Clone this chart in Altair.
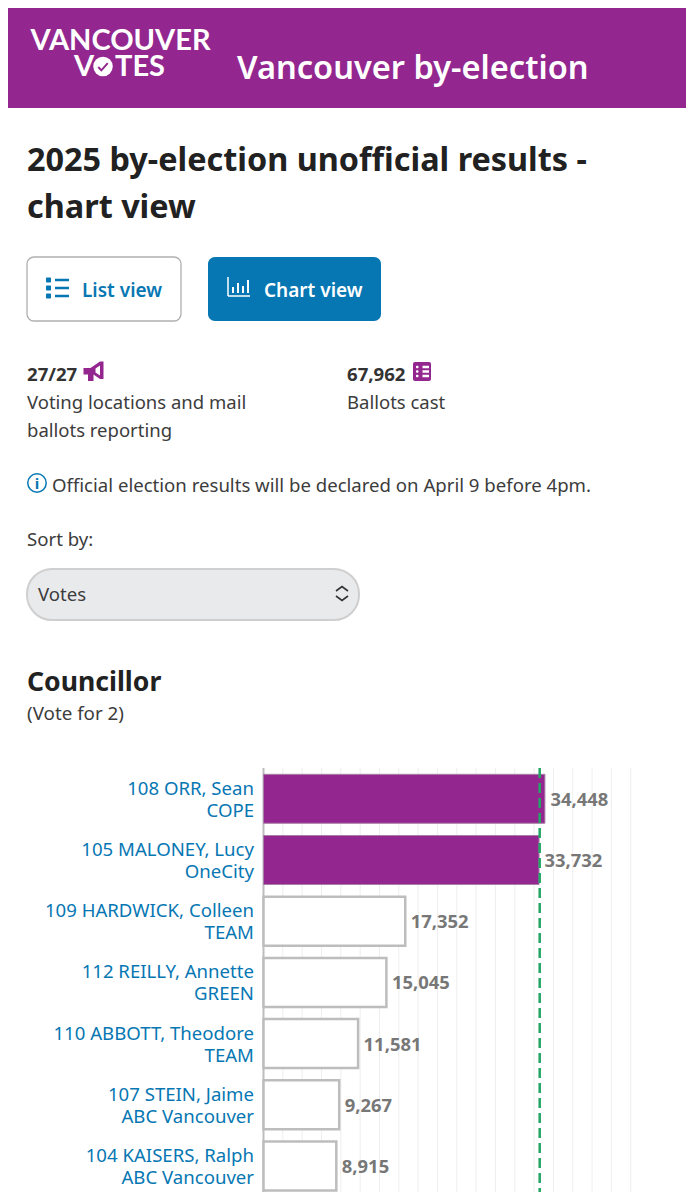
import altair as alt
import pandas as pd

candidates = ["108 ORR, Sean", "105 MALONEY, Lucy", "109 HARDWICK, Colleen", "112 REILLY, Annette",
              "110 ABBOTT, Theodore", "107 STEIN, Jaime", "104 KAISERS, Ralph"]
parties = ["COPE", "OneCity", "TEAM", "GREEN", "TEAM", "ABC Vancouver", "ABC Vancouver"]
votes = [34448, 33732, 17352, 15045, 11581, 9267, 8915]
elected = [True, True, False, False, False, False, False]
grid_ticks = [2366, 4732, 7098, 9464, 11830, 14196, 16562, 18928, 21294, 23660,
              26026, 28392, 30758, 33124, 35490, 37856, 40222, 42588, 44954]
threshold = [33810]

PURPLE = "#93278f"
BLUE = "#0777b3"
DARK = "#212121"
BODY = "#3c3c3c"
FONT = "Noto Sans"
M = 8  # page margin: reference pixel minus M gives the chart pixel

df = pd.DataFrame({"candidate": candidates, "party": parties, "votes": votes, "elected": elected})
one = pd.DataFrame({"k": [0]})

x_scale = alt.Scale(domain=[0, 45000], range=[263.5 - M, 631.1 - M])
y_scale = alt.Scale(domain=candidates, range=[768.2 - M, 1196.6 - M], paddingInner=0.2, paddingOuter=0.1)
X = alt.X("votes:Q", scale=x_scale, axis=None)
Y = alt.Y("candidate:N", scale=y_scale, axis=None, sort=None)


def txt(s, x, y, size, color=BODY, weight=400, font=FONT, align="left"):
    return alt.Chart(one).mark_text(text=s, fontSize=size, color=color, fontWeight=weight, font=font,
                                    align=align, baseline="alphabetic").encode(x=alt.value(x - M), y=alt.value(y - M))


def box(x, x2, y, y2, fill, stroke=None, sw=0, r=0):
    kw = dict(fill=fill, cornerRadius=r, strokeWidth=sw)
    if stroke:
        kw["stroke"] = stroke
    return alt.Chart(one).mark_rect(**kw).encode(x=alt.value(x - M), x2=alt.value(x2 - M),
                                                 y=alt.value(y - M), y2=alt.value(y2 - M))


def sym(path, x, y, size, color, filled=True, sw=1.5):
    kw = dict(shape=path, size=size, filled=filled, opacity=1)
    kw.update(dict(fill=color, strokeWidth=0) if filled else dict(stroke=color, strokeWidth=sw, fill=None))
    return alt.Chart(one).mark_point(**kw).encode(x=alt.value(x - M), y=alt.value(y - M))


def vrule(x, y, y2, sw, color="white"):
    return alt.Chart(one).mark_rule(color=color, strokeWidth=sw).encode(
        x=alt.value(x - M), y=alt.value(y - M), y2=alt.value(y2 - M))


def list_icon(x, y, w, h, color, dot):
    parts = []
    for i in range(3):
        cy = y + i * h
        parts.append(box(x, x + dot, cy - dot / 2, cy + dot / 2, color, r=1))
        parts.append(box(x + dot + 4, x + w, cy - 1.25, cy + 1.25, color))
    return parts


page = [
    box(0, 694, 0, 108, PURPLE),
    txt("VANCOUVER", 120.5, 49.5, 29, "white", 700, "Lato", "center"),
    txt("V", 84, 76, 29, "white", 700, "Lato", "center"),
    txt("TES", 140, 76, 29, "white", 700, "Lato", "center"),
    alt.Chart(one).mark_point(shape="circle", size=380, filled=True, fill="white", strokeWidth=0, opacity=1)
    .encode(x=alt.value(103 - M), y=alt.value(66.5 - M)),
    sym("M-1,0 L-0.35,0.7 L1,-0.8", 103, 67, 90, PURPLE, False, 2),
    txt("Vancouver by-election", 237, 79, 32.6, "white", 600),
    txt("2025 by-election unofficial results -", 27, 171, 32.4, DARK, 700),
    txt("chart view", 27, 218, 32.4, DARK, 700),
    box(27, 181, 257, 321, "white", "#b0b0b0", 1.3, 7),
    box(208, 381, 257, 321, BLUE, r=7),
]
page += list_icon(46, 280, 23, 8, BLUE, 5)
page += [
    txt("List view", 82, 297, 19, BLUE, 600),
    vrule(228, 277, 296, 1.5),
    alt.Chart(one).mark_rule(color="white", strokeWidth=1.5).encode(
        x=alt.value(228 - M), x2=alt.value(250 - M), y=alt.value(296 - M)),
    vrule(233, 287, 293, 2),
    vrule(238, 283, 293, 2),
    vrule(243, 286, 293, 2),
    vrule(248, 280, 293, 2),
    txt("Chart view", 264, 297, 19, "white", 600),
    txt("27/27", 27, 381, 18.6, "#333333", 700),
    sym("M-1,-0.35 L-0.3,-0.35 L0.65,-1 L1,-1 L1,0.75 L0.65,0.75 L0,0.3 L0,0.95 L-0.55,0.95 L-0.55,0.3 L-1,0.3 Z",
        93.5, 371.5, 400, PURPLE),
    sym("M0.2,-0.3 L0.65,-0.6 L0.65,0.4 L0.2,0.1 Z", 93.5, 371.5, 400, "white"),
    txt("67,962", 347, 381, 18.6, "#333333", 700),
    box(413, 431, 362, 381, PURPLE, r=2),
]
page += list_icon(416, 367, 13, 4.5, "white", 2.5)
page += [
    txt("Voting locations and mail", 27, 409, 18.5),
    txt("ballots reporting", 27, 437, 18.5),
    txt("Ballots cast", 347, 409, 18.5),
    alt.Chart(one).mark_point(shape="circle", size=340, filled=False, stroke=BLUE, strokeWidth=1.5, opacity=1)
    .encode(x=alt.value(37 - M), y=alt.value(483 - M)),
    txt("i", 37, 489, 15, BLUE, 700, FONT, "center"),
    txt("Official election results will be declared on April 9 before 4pm.", 52, 492, 18.6),
    txt("Sort by:", 27, 546, 18.6),
    box(27, 359, 569, 620, "#e9eaec", "#cfcfcf", 2, 25),
    txt("Votes", 38, 601, 18.6),
    sym("M-1,-0.25 L0,-1 L1,-0.25", 342, 592.5, 144, "#333333", False, 1.6),
    sym("M-1,0.25 L0,1 L1,0.25", 342, 594.5, 144, "#333333", False, 1.6),
    txt("Councillor", 27, 691, 26.6, DARK, 700),
    txt("(Vote for 2)", 27, 720, 18.8, BODY),
]

grid = alt.Chart(pd.DataFrame({"votes": grid_ticks})).mark_rule(color="#eeeeee", strokeWidth=1).encode(
    x=X, y=alt.value(768 - M), y2=alt.value(1192))
axis_line = vrule(263.5, 768, 1200, 2, "#bdbdbd")
won = alt.Chart(df[df.elected]).mark_bar(fill=PURPLE, stroke="#a77fa6", strokeWidth=1).encode(x=X, y=Y)
lost = alt.Chart(df[~df.elected]).mark_bar(fill="white", stroke="#bdbdbd", strokeWidth=2.5).encode(x=X, y=Y)
line = alt.Chart(pd.DataFrame({"votes": threshold})).mark_rule(
    color="#22a565", strokeWidth=2.5, strokeDash=[10, 5]).encode(x=X, y=alt.value(768 - M), y2=alt.value(1192))
names = alt.Chart(df).mark_text(font=FONT, fontSize=18.6, color=BLUE, align="right", baseline="alphabetic", dy=-4).encode(
    x=alt.value(254 - M), y=Y, text="candidate:N")
party = alt.Chart(df).mark_text(font=FONT, fontSize=18.6, color=BLUE, align="right", baseline="alphabetic", dy=18).encode(
    x=alt.value(254 - M), y=Y, text="party:N")
values = alt.Chart(df).mark_text(font=FONT, fontSize=18.4, fontWeight=700, color="#777777", align="left",
                                 baseline="alphabetic", dx=5.5, dy=7).encode(
    x=X, y=Y, text=alt.Text("votes:Q", format=","))

chart = alt.layer(*page, grid, axis_line, won, lost, line, names, party, values).properties(
    width=678, height=1184, padding=0, autosize=alt.AutoSizeParams(type="none"), background="white",
).configure_view(stroke=None)

chart.save("out.html", embed_options={"renderer": "svg", "actions": False})
